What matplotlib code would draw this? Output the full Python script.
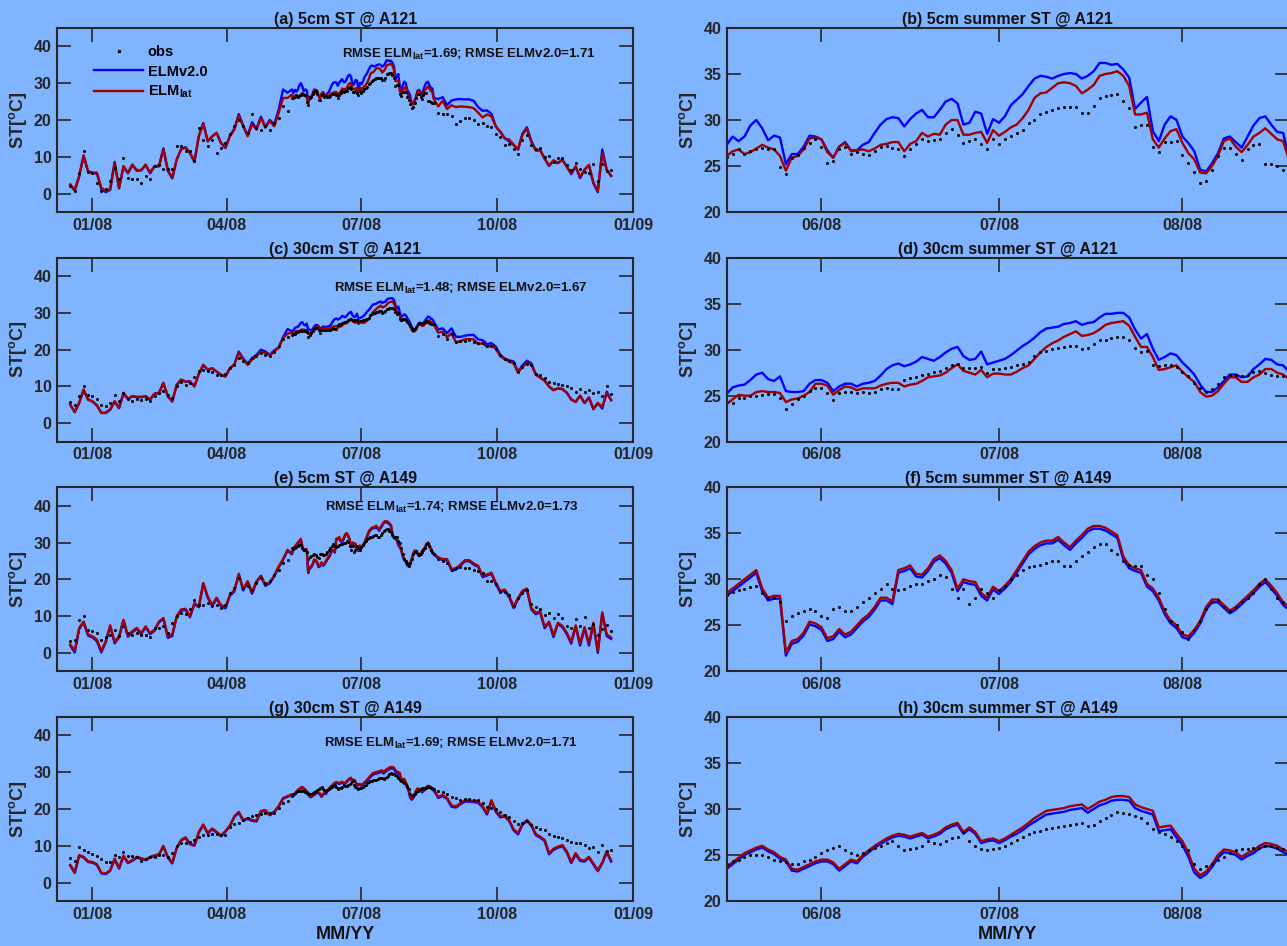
import numpy as np
import matplotlib.pyplot as plt
from matplotlib.lines import Line2D

plt.rcParams['font.family'] = ['Liberation Sans', 'DejaVu Sans']
plt.rcParams['font.weight'] = 'bold'
plt.rcParams['axes.labelweight'] = 'bold'
plt.rcParams['axes.titleweight'] = 'bold'
plt.rcParams['mathtext.fontset'] = 'custom'
plt.rcParams['mathtext.rm'] = 'Liberation Sans:bold'
plt.rcParams['mathtext.it'] = 'Liberation Sans:bold'
plt.rcParams['mathtext.bf'] = 'Liberation Sans:bold'

BG = '#80B4FF'
INK = '#262626'
C_V2 = '#0000FF'
C_LAT = '#A00000'

# day numbers counted from 2008-01-01
day_pre = np.arange(-15, 136, 3)
day_sum = np.arange(136, 232)
day_post = np.arange(234, 352, 3)

# ---- A121, 5 cm ----
a_obs_pre = [2.1, 0.7, 5.7, 11.7, 6.0, 5.7, 3.0, 0.7, 1.2, 3.4, 7.0, 3.9, 9.8, 4.3, 4.1, 3.9, 3.0, 4.8, 3.9, 7.5,
             7.8, 6.6, 6.6, 6.6, 12.9, 12.9, 11.6, 11.6, 8.8, 17.9, 14.7, 12.9, 14.7, 11.1, 12.5, 13.8, 16.3, 18.3,
             20.1, 18.3, 16.5, 21.5, 17.9, 17.4, 18.3, 17.4, 19.2, 20.6, 23.7, 22.4, 26.0]
a_v2_pre = [2.3, 0.8, 4.6, 10.4, 6.0, 5.5, 5.5, 1.2, 0.4, 1.0, 8.6, 1.4, 7.3, 5.5, 7.7, 6.2, 6.3, 7.8, 5.5, 7.4,
            7.4, 12.3, 6.2, 4.1, 9.2, 12.1, 12.6, 11.0, 8.6, 15.7, 19.2, 14.2, 15.5, 16.5, 13.7, 12.4, 15.7, 17.6,
            21.6, 18.5, 15.8, 19.4, 17.6, 20.9, 18.1, 20.0, 18.8, 22.8, 28.3, 27.4, 28.3]
a_lat_pre = [2.5, 1.0, 4.8, 10.2, 6.1, 5.7, 5.7, 1.6, 0.7, 1.2, 8.4, 1.6, 7.5, 5.7, 7.9, 6.4, 6.4, 7.9, 5.7, 7.5,
             7.5, 12.0, 6.4, 4.3, 9.3, 12.0, 12.5, 11.1, 8.8, 15.6, 19.0, 14.3, 15.6, 16.5, 13.8, 12.5, 15.6, 17.4,
             21.3, 18.3, 15.6, 18.8, 17.4, 20.6, 17.9, 19.7, 18.3, 21.9, 26.0, 26.0, 26.9]
b_obs = [26.0, 26.3, 26.9, 26.3, 26.6, 26.8, 27.0, 26.8, 26.8, 24.9, 24.1, 25.9, 26.2, 27.0, 27.5, 27.9, 27.1, 25.3,
         25.5, 26.8, 27.1, 26.3, 26.5, 26.3, 26.2, 26.6, 27.1, 27.2, 27.0, 26.9, 26.1, 26.8, 27.4, 27.9, 27.7, 27.8,
         27.9, 28.6, 29.0, 28.4, 27.5, 27.7, 27.9, 27.4, 26.9, 27.9, 27.4, 27.9, 28.3, 28.6, 28.9, 29.7, 30.0, 30.7,
         30.9, 31.1, 31.3, 31.4, 31.4, 31.4, 30.8, 30.8, 31.5, 32.4, 32.6, 32.7, 32.8, 32.1, 31.3, 29.2, 29.5, 29.5,
         27.1, 26.5, 27.6, 27.6, 27.7, 26.2, 25.3, 24.3, 23.2, 23.4, 24.6, 26.1, 27.0, 27.0, 26.3, 25.7, 26.9, 27.3,
         27.4, 25.2, 25.2, 25.0, 24.6, 24.6]
b_v2 = [27.3, 28.2, 27.7, 28.2, 29.4, 30.0, 29.1, 27.8, 28.3, 28.1, 25.2, 26.3, 26.3, 27.1, 28.3, 28.2, 27.9, 26.7,
        25.9, 27.1, 27.6, 26.7, 26.7, 27.3, 27.6, 28.6, 29.5, 30.1, 30.3, 30.2, 29.3, 30.1, 30.7, 31.1, 30.3, 30.3,
        31.1, 32.0, 32.3, 31.8, 29.5, 29.7, 30.9, 30.7, 28.5, 30.1, 29.7, 30.4, 31.6, 32.2, 32.8, 33.7, 34.5, 34.8,
        34.7, 34.5, 34.8, 35.0, 35.1, 35.0, 34.5, 34.8, 35.3, 36.2, 36.2, 36.0, 36.1, 35.5, 34.6, 31.2, 31.9, 32.5,
        28.8, 27.7, 29.5, 30.4, 30.0, 28.2, 27.5, 26.6, 24.6, 24.4, 25.3, 26.4, 28.0, 28.2, 27.6, 27.0, 28.2, 29.4,
        30.2, 30.4, 29.5, 28.7, 28.6, 26.0]
b_lat = [26.1, 26.6, 26.8, 26.3, 26.5, 26.9, 27.3, 27.0, 26.8, 26.1, 24.5, 25.9, 26.1, 26.8, 28.0, 28.1, 27.9, 26.5,
         25.9, 27.1, 27.5, 26.6, 26.7, 26.8, 26.6, 26.9, 27.3, 27.4, 27.6, 27.6, 26.6, 27.4, 27.7, 28.6, 28.2, 28.5,
         28.4, 29.5, 30.0, 30.0, 28.4, 28.4, 28.6, 28.7, 27.5, 28.9, 28.3, 28.7, 29.2, 29.5, 30.2, 31.1, 32.4, 32.9,
         33.0, 33.5, 34.0, 34.1, 34.0, 33.7, 32.9, 33.3, 33.8, 34.8, 35.0, 35.1, 35.3, 34.8, 33.7, 30.6, 30.6, 30.8,
         27.9, 27.0, 28.0, 28.8, 29.0, 27.5, 26.4, 25.7, 24.3, 24.2, 25.0, 26.1, 27.7, 28.0, 27.1, 26.5, 27.3, 28.2,
         28.6, 29.1, 28.5, 27.9, 27.7, 25.7]
a_obs_post = [21.8, 21.6, 21.5, 21.1, 19.0, 19.8, 20.6, 20.6, 20.1, 18.8, 19.2, 18.3, 18.2, 16.2, 15.4, 13.2, 13.5,
              12.0, 10.8, 14.5, 15.8, 13.2, 12.0, 12.4, 10.0, 10.2, 8.6, 9.6, 9.6, 7.8, 6.3, 8.4, 6.8, 6.0, 5.5, 8.0,
              3.5, 8.0, 6.2, 6.5]
a_v2_post = [25.7, 26.2, 24.0, 25.3, 25.6, 25.7, 25.6, 25.6, 25.2, 23.5, 22.5, 22.6, 21.7, 18.2, 16.8, 15.0, 14.2,
             13.2, 12.0, 16.3, 18.0, 14.3, 11.8, 11.8, 9.5, 7.5, 9.0, 8.3, 9.2, 7.3, 5.3, 7.3, 4.2, 6.5, 7.8, 2.8,
             0.4, 12.0, 6.5, 4.8]
a_lat_post = [23.7, 25.2, 23.0, 24.0, 23.5, 23.7, 23.6, 23.5, 23.2, 22.0, 20.7, 21.5, 21.0, 18.2, 16.8, 15.0, 14.7,
              13.3, 12.0, 16.0, 17.6, 14.0, 11.7, 11.8, 9.5, 7.6, 9.0, 8.3, 9.2, 7.3, 5.5, 7.4, 4.5, 6.5, 7.8, 3.0,
              0.8, 11.0, 6.5, 4.8]

# ---- A121, 30 cm ----
c_obs_pre = [5.8, 4.9, 7.4, 10.1, 7.8, 7.4, 6.7, 5.1, 4.7, 5.4, 7.8, 6.0, 8.1, 6.5, 6.0, 6.5, 6.3, 6.7, 6.0, 7.4,
             8.1, 8.7, 7.8, 6.9, 10.1, 11.2, 10.5, 11.0, 12.6, 14.1, 14.6, 14.1, 13.9, 13.2, 13.0, 13.5, 15.0, 15.9,
             17.7, 16.8, 16.4, 17.7, 18.2, 19.1, 18.6, 18.4, 19.5, 20.9, 22.9, 23.4, 24.1]
c_v2_pre = [5.0, 3.0, 5.5, 9.0, 6.4, 5.9, 4.8, 2.8, 2.8, 3.7, 5.9, 4.1, 8.1, 6.6, 7.3, 7.1, 7.1, 7.3, 6.4, 8.0,
            8.2, 10.9, 7.3, 5.9, 10.4, 11.8, 11.3, 11.3, 10.0, 13.4, 15.8, 14.5, 14.9, 14.0, 13.1, 12.7, 15.0, 16.0,
            19.5, 17.6, 16.2, 17.7, 18.6, 20.0, 19.5, 18.6, 19.8, 20.6, 23.4, 25.6, 25.0]
c_lat_pre = [5.1, 3.1, 5.6, 9.2, 6.5, 6.0, 4.9, 2.9, 2.9, 3.8, 6.0, 4.2, 8.3, 6.7, 7.4, 7.2, 7.2, 7.4, 6.5, 8.1,
             8.3, 11.0, 7.4, 6.0, 10.5, 11.9, 11.4, 11.4, 10.1, 13.5, 15.9, 14.6, 15.0, 14.1, 13.2, 12.8, 15.0, 15.9,
             19.3, 17.3, 15.9, 17.3, 18.2, 19.5, 19.1, 18.4, 19.5, 20.5, 23.2, 24.3, 24.7]
d_obs = [24.3, 24.2, 24.8, 24.8, 25.0, 25.0, 25.1, 25.2, 25.2, 24.8, 23.5, 24.1, 24.6, 25.0, 25.5, 25.8, 25.8, 25.3,
         24.5, 25.3, 25.4, 25.4, 25.3, 25.4, 25.3, 25.4, 25.7, 25.8, 25.7, 25.7, 26.7, 26.9, 27.0, 27.2, 27.4, 27.6,
         27.7, 28.0, 28.3, 28.4, 28.0, 28.0, 28.0, 28.1, 27.5, 27.9, 27.9, 28.0, 28.1, 28.3, 28.4, 28.7, 29.3, 29.7,
         29.9, 30.1, 30.2, 30.3, 30.4, 30.4, 30.1, 30.2, 30.6, 31.0, 31.1, 31.3, 31.4, 31.4, 31.0, 30.2, 29.8, 29.9,
         28.3, 28.2, 28.3, 28.3, 28.1, 27.6, 27.1, 26.4, 25.8, 25.4, 25.7, 26.3, 27.0, 27.3, 27.3, 27.1, 27.3, 27.6,
         27.7, 27.5, 27.2, 27.1, 27.1, 26.9]
d_v2 = [25.2, 25.9, 26.1, 26.2, 26.7, 27.3, 27.5, 26.8, 26.6, 27.1, 25.5, 25.4, 25.4, 25.5, 26.3, 26.7, 26.7, 26.4,
        25.5, 26.0, 26.3, 26.3, 26.0, 26.3, 26.4, 26.6, 27.2, 27.9, 28.3, 28.5, 28.2, 28.4, 28.7, 29.2, 29.0, 28.8,
        29.2, 29.7, 30.1, 30.3, 29.3, 28.9, 29.0, 29.8, 28.4, 28.6, 28.8, 29.0, 29.4, 29.9, 30.4, 30.8, 31.3, 31.9,
        32.3, 32.4, 32.5, 32.8, 32.9, 33.1, 32.7, 32.9, 33.0, 33.5, 33.9, 33.9, 34.0, 34.0, 33.5, 32.2, 31.2, 31.7,
        30.1, 28.9, 29.2, 29.6, 29.4, 28.6, 28.0, 27.3, 26.2, 25.4, 25.4, 25.9, 26.6, 27.3, 27.3, 27.0, 27.1, 27.9,
        28.4, 29.0, 28.9, 28.4, 28.3, 27.6]
d_lat = [24.1, 24.6, 25.1, 25.0, 25.0, 25.4, 25.5, 25.4, 25.4, 25.3, 24.3, 24.6, 24.7, 25.0, 25.4, 26.3, 26.3, 26.1,
         25.1, 25.6, 26.0, 25.9, 25.6, 25.8, 25.8, 25.8, 26.1, 26.3, 26.4, 26.4, 26.0, 26.2, 26.3, 26.6, 27.0, 27.1,
         27.2, 27.5, 28.0, 28.4, 27.7, 27.5, 27.3, 27.8, 27.0, 27.4, 27.4, 27.3, 27.3, 27.6, 28.0, 28.3, 29.0, 29.7,
         30.3, 30.7, 31.0, 31.4, 31.7, 32.0, 31.5, 31.6, 31.8, 32.2, 32.7, 32.9, 33.0, 33.1, 32.6, 31.4, 30.3, 30.3,
         29.2, 27.8, 27.9, 28.1, 28.3, 27.6, 27.0, 26.5, 25.4, 24.9, 25.0, 25.5, 26.3, 27.0, 27.0, 26.5, 26.5, 27.0,
         27.3, 27.9, 27.9, 27.5, 27.3, 26.8]
c_obs_post = [23.8, 24.4, 23.0, 24.2, 22.2, 22.3, 22.4, 22.6, 22.2, 21.7, 21.9, 21.0, 21.0, 20.2, 18.6, 17.6, 17.0,
              16.5, 14.0, 15.3, 16.2, 15.8, 13.5, 13.0, 12.4, 11.2, 11.0, 10.8, 10.5, 10.0, 9.5, 8.5, 9.4, 8.5, 9.0,
              8.2, 8.6, 7.5, 10.0, 8.0]
c_v2_post = [25.5, 25.8, 24.5, 25.8, 23.5, 23.5, 23.8, 24.0, 24.0, 22.8, 22.6, 21.5, 21.8, 20.8, 18.6, 17.6, 17.1,
             16.8, 14.0, 15.8, 17.0, 16.3, 13.3, 12.4, 11.6, 10.0, 9.0, 9.5, 9.3, 8.3, 6.5, 5.8, 7.5, 5.5, 7.0, 3.8,
             5.5, 4.0, 8.6, 6.3]
c_lat_post = [24.6, 24.9, 23.4, 24.5, 22.0, 22.3, 22.8, 22.9, 22.8, 21.5, 21.8, 20.8, 21.2, 20.2, 18.2, 17.4, 16.8,
              16.3, 13.8, 15.3, 16.4, 16.0, 13.2, 12.4, 11.6, 10.0, 9.0, 9.5, 9.3, 8.3, 6.5, 5.8, 7.5, 5.5, 7.0, 4.0,
              5.5, 4.5, 8.2, 6.3]

# ---- A149, 5 cm ----
e_obs_pre = [3.2, 3.6, 9.0, 10.0, 6.3, 5.9, 5.4, 3.6, 4.3, 5.0, 6.3, 4.7, 7.2, 5.4, 5.0, 5.4, 5.0, 5.0, 4.3, 6.8,
             6.8, 7.2, 5.4, 8.1, 10.0, 10.9, 10.7, 11.8, 14.5, 13.1, 13.1, 13.6, 12.7, 12.9, 12.2, 12.9, 16.3, 17.6,
             20.4, 17.6, 18.1, 17.2, 19.0, 20.4, 19.0, 19.5, 21.3, 22.6, 24.4, 25.3, 28.5]
e_v2_pre = [2.0, 0.1, 6.5, 8.3, 4.7, 4.2, 3.2, 0.1, 2.9, 7.3, 2.6, 4.2, 8.8, 4.4, 5.6, 6.5, 5.1, 7.0, 5.1, 6.0,
            8.3, 9.3, 4.1, 4.6, 9.8, 11.5, 11.7, 9.7, 13.3, 12.4, 18.8, 15.0, 12.7, 14.7, 12.7, 12.1, 15.5, 16.7,
            21.3, 17.0, 19.2, 16.1, 19.2, 20.8, 18.2, 18.9, 20.8, 23.2, 25.3, 27.8, 26.8]
e_lat_pre = [2.3, 0.5, 6.8, 8.5, 5.0, 4.5, 3.6, 0.5, 3.2, 7.5, 3.0, 4.5, 9.0, 4.7, 5.9, 6.8, 5.4, 7.2, 5.4, 6.3,
             8.5, 9.5, 4.5, 5.0, 10.0, 11.8, 12.0, 10.0, 13.5, 12.7, 19.0, 15.3, 13.1, 15.0, 13.0, 12.5, 15.8, 17.0,
             21.5, 17.3, 19.5, 16.5, 19.5, 21.0, 18.5, 19.2, 21.0, 23.5, 25.5, 28.0, 27.0]
f_obs = [28.3, 28.6, 28.8, 29.0, 29.2, 29.3, 28.5, 28.0, 28.0, 27.5, 25.5, 26.0, 26.3, 26.5, 26.8, 26.5, 26.0, 25.8,
         26.8, 27.0, 26.5, 26.5, 27.0, 27.5, 28.0, 28.5, 29.0, 29.5, 29.0, 28.8, 29.0, 29.3, 29.5, 29.5, 29.8, 30.0,
         30.5, 30.2, 29.0, 28.0, 29.0, 27.3, 28.0, 29.0, 28.5, 28.0, 28.8, 29.3, 30.0, 30.5, 31.0, 31.3, 31.5, 31.6,
         31.8, 32.0, 32.0, 31.5, 31.5, 32.0, 32.5, 33.0, 33.5, 33.8, 33.8, 33.2, 32.8, 32.0, 31.6, 31.5, 31.5, 30.5,
         30.0, 28.5, 26.8, 25.5, 25.0, 24.3, 23.5, 24.5, 25.5, 26.8, 27.5, 27.8, 27.0, 26.5, 27.0, 27.5, 28.0, 28.5,
         29.5, 30.0, 29.0, 28.0, 27.5, 27.0]
f_v2 = [28.2, 28.7, 29.2, 29.7, 30.2, 30.7, 28.7, 27.7, 27.9, 27.9, 21.7, 23.0, 23.2, 23.9, 25.1, 24.9, 24.5, 23.3,
        23.5, 24.3, 23.7, 24.0, 24.7, 25.4, 25.9, 26.7, 27.7, 27.7, 27.3, 30.7, 30.9, 31.2, 30.3, 30.2, 30.9, 31.9,
        32.3, 31.7, 30.7, 28.7, 29.7, 29.5, 29.4, 28.2, 27.7, 28.9, 28.4, 29.0, 29.7, 30.7, 31.7, 32.7, 33.3, 33.7,
        33.9, 33.9, 34.3, 33.7, 33.2, 33.9, 34.5, 35.2, 35.5, 35.5, 35.3, 34.9, 34.5, 32.2, 31.2, 30.9, 30.7, 29.2,
        28.7, 27.7, 26.2, 25.2, 24.7, 23.7, 23.5, 24.2, 25.2, 26.7, 27.5, 27.5, 26.9, 26.3, 26.7, 27.3, 27.9, 28.5,
        29.2, 29.7, 29.0, 28.2, 27.2, 26.7]
f_lat = [28.5, 29.0, 29.5, 30.0, 30.5, 31.0, 29.0, 28.0, 28.2, 28.2, 22.0, 23.3, 23.5, 24.2, 25.4, 25.2, 24.8, 23.6,
         23.8, 24.6, 24.0, 24.3, 25.0, 25.7, 26.2, 27.0, 28.0, 28.0, 27.6, 31.0, 31.2, 31.5, 30.6, 30.5, 31.2, 32.2,
         32.6, 32.0, 31.0, 29.0, 30.0, 29.8, 29.7, 28.5, 28.0, 29.2, 28.7, 29.3, 30.0, 31.0, 32.0, 33.0, 33.6, 34.0,
         34.2, 34.2, 34.6, 34.0, 33.5, 34.2, 34.8, 35.5, 35.8, 35.8, 35.6, 35.2, 34.8, 32.5, 31.5, 31.2, 31.0, 29.5,
         29.0, 28.0, 26.5, 25.5, 25.0, 24.0, 23.8, 24.5, 25.5, 27.0, 27.8, 27.8, 27.2, 26.6, 27.0, 27.6, 28.2, 28.8,
         29.5, 30.0, 29.3, 28.5, 27.5, 27.0]
e_obs_post = [25.5, 25.0, 24.5, 22.4, 23.0, 23.4, 23.1, 23.0, 22.5, 22.3, 21.8, 19.5, 19.5, 18.6, 16.5, 16.6, 15.8,
              12.8, 14.9, 16.3, 17.0, 13.2, 12.6, 11.8, 10.3, 10.8, 9.5, 10.6, 9.5, 7.2, 6.8, 9.3, 7.4, 9.8, 6.8,
              7.8, 5.0, 6.6, 7.5, 6.0]
e_v2_post = [25.7, 25.2, 25.2, 22.4, 22.6, 23.7, 24.9, 24.9, 24.0, 23.4, 20.6, 21.0, 21.5, 18.6, 16.5, 16.9, 15.1,
             12.2, 14.6, 16.6, 17.2, 11.8, 10.5, 11.0, 6.7, 8.2, 4.3, 7.9, 7.0, 5.1, 2.5, 7.2, 2.0, 6.7, 2.0, 7.9,
             0.0, 10.7, 4.6, 3.8]
e_lat_post = [26.0, 25.5, 25.5, 22.8, 23.0, 24.0, 25.2, 25.2, 24.3, 23.7, 21.0, 21.3, 21.8, 19.0, 16.9, 17.2, 15.5,
              12.6, 14.9, 16.9, 17.5, 12.2, 10.9, 11.3, 7.1, 8.5, 4.8, 8.2, 7.3, 5.5, 3.0, 7.5, 2.5, 7.0, 2.5, 8.2,
              0.5, 11.0, 5.0, 4.2]

# ---- A149, 30 cm ----
g_obs_pre = [6.8, 5.8, 9.6, 8.8, 8.2, 7.8, 7.2, 6.3, 5.5, 5.5, 7.5, 7.0, 8.2, 7.3, 7.2, 7.0, 5.8, 6.4, 7.0, 7.0,
             7.6, 7.5, 7.0, 8.0, 10.0, 10.7, 10.7, 11.0, 11.5, 12.5, 12.8, 12.9, 13.2, 13.2, 12.9, 13.0, 15.0, 15.8,
             16.3, 17.0, 17.5, 18.0, 18.3, 18.6, 18.8, 18.8, 19.0, 20.3, 21.5, 22.2, 23.5]
g_v2_pre = [4.6, 2.6, 7.3, 6.8, 5.6, 5.4, 4.8, 2.5, 2.3, 3.2, 6.3, 3.8, 7.1, 5.3, 5.9, 6.8, 6.4, 6.1, 6.8, 7.2,
            7.5, 9.8, 6.8, 5.2, 9.3, 11.4, 12.1, 10.4, 10.0, 13.6, 15.6, 13.3, 14.5, 13.6, 12.6, 13.8, 15.3, 17.8,
            19.0, 16.8, 17.3, 16.8, 16.6, 19.3, 19.5, 18.3, 19.1, 20.6, 22.8, 23.3, 23.8]
g_lat_pre = [4.8, 2.8, 7.5, 7.0, 5.8, 5.6, 5.0, 2.7, 2.5, 3.4, 6.5, 4.0, 7.3, 5.5, 6.1, 7.0, 6.6, 6.3, 7.0, 7.4,
             7.7, 10.0, 7.0, 5.4, 9.5, 11.6, 12.3, 10.6, 10.2, 13.8, 15.8, 13.5, 14.7, 13.8, 12.8, 14.0, 15.5, 18.0,
             19.2, 17.0, 17.5, 17.0, 16.8, 19.5, 19.7, 18.5, 19.3, 20.8, 23.0, 23.5, 24.0]
h_obs = [24.0, 24.3, 24.5, 24.8, 25.0, 25.0, 25.0, 24.8, 24.5, 24.3, 24.2, 24.0, 24.0, 24.3, 24.5, 24.8, 25.2, 25.5,
         25.8, 26.0, 25.5, 25.2, 25.0, 25.2, 25.5, 25.8, 26.0, 26.3, 26.5, 26.0, 25.5, 25.6, 25.8, 26.0, 26.5, 26.3,
         26.2, 26.5, 26.8, 27.0, 27.5, 26.5, 26.0, 25.6, 25.5, 25.6, 25.8, 26.0, 26.3, 26.6, 27.0, 27.3, 27.5, 27.6,
         27.8, 27.9, 28.0, 28.1, 28.3, 28.4, 28.5, 28.2, 28.3, 28.7, 29.0, 29.4, 29.7, 29.6, 29.5, 29.2, 29.0, 28.5,
         27.8, 27.5, 27.3, 27.0, 26.5, 26.0, 25.5, 24.0, 23.5, 23.8, 24.0, 24.5, 24.8, 25.2, 25.5, 25.6, 25.7, 25.8,
         25.8, 26.0, 26.0, 25.8, 25.7, 25.5]
h_v2 = [23.5, 24.0, 24.5, 25.0, 25.3, 25.6, 25.8, 25.4, 25.1, 24.6, 24.3, 23.3, 23.2, 23.5, 23.8, 24.1, 24.3, 24.3,
        24.0, 23.3, 23.8, 24.3, 24.1, 24.8, 25.3, 25.8, 26.2, 26.6, 26.9, 27.1, 27.0, 26.8, 27.0, 27.2, 26.8, 27.0,
        27.3, 27.8, 28.1, 28.3, 27.3, 27.8, 27.3, 26.3, 26.5, 26.6, 26.3, 26.6, 27.0, 27.3, 27.7, 28.2, 28.6, 29.0,
        29.4, 29.5, 29.6, 29.7, 29.9, 30.0, 30.1, 29.6, 30.0, 30.4, 30.6, 30.9, 31.0, 31.0, 30.9, 30.1, 29.8, 29.6,
        29.4, 27.6, 27.7, 27.8, 26.9, 26.1, 24.8, 23.1, 22.5, 22.9, 23.7, 24.7, 25.3, 25.2, 25.0, 24.5, 24.9, 25.2,
        25.7, 26.0, 25.9, 25.7, 25.3, 25.0]
h_lat = [23.7, 24.2, 24.7, 25.2, 25.5, 25.8, 26.0, 25.6, 25.3, 24.8, 24.5, 23.5, 23.4, 23.7, 24.0, 24.3, 24.5, 24.5,
         24.2, 23.5, 24.0, 24.5, 24.3, 25.0, 25.5, 26.0, 26.4, 26.8, 27.1, 27.3, 27.2, 27.0, 27.2, 27.4, 27.0, 27.2,
         27.5, 28.0, 28.3, 28.5, 27.5, 28.0, 27.5, 26.5, 26.7, 26.8, 26.5, 26.8, 27.2, 27.6, 28.0, 28.5, 29.0, 29.4,
         29.8, 29.9, 30.0, 30.1, 30.3, 30.4, 30.5, 30.0, 30.4, 30.8, 31.0, 31.3, 31.4, 31.4, 31.3, 30.5, 30.2, 30.0,
         29.8, 28.0, 28.1, 28.2, 27.3, 26.5, 25.2, 23.5, 22.8, 23.2, 24.0, 25.0, 25.6, 25.5, 25.3, 24.8, 25.2, 25.5,
         26.0, 26.3, 26.2, 26.0, 25.6, 25.3]
g_obs_post = [25.0, 24.6, 24.2, 23.3, 22.9, 22.5, 22.6, 22.6, 22.4, 22.4, 21.7, 20.6, 20.3, 20.0, 19.2, 18.3, 17.9,
              16.8, 15.8, 16.2, 16.8, 15.6, 15.0, 14.6, 14.2, 13.2, 12.6, 12.3, 12.0, 11.6, 11.0, 10.7, 10.7, 10.2,
              9.4, 9.8, 8.2, 10.3, 8.5, 8.9]
g_v2_post = [23.0, 23.5, 22.7, 20.6, 20.4, 21.3, 22.0, 22.0, 21.9, 21.7, 20.5, 18.5, 22.1, 19.2, 17.7, 18.0, 16.7,
             14.2, 13.1, 15.7, 16.7, 15.5, 12.9, 12.2, 11.3, 7.7, 8.9, 9.5, 9.9, 8.2, 5.3, 7.7, 5.9, 5.7, 6.7, 4.9,
             3.1, 5.2, 8.2, 5.7]
g_lat_post = [23.3, 23.8, 23.0, 21.0, 20.7, 21.6, 22.3, 22.3, 22.2, 22.0, 20.8, 18.8, 22.4, 19.5, 18.0, 18.3, 17.0,
              14.5, 13.4, 16.0, 17.0, 15.8, 13.2, 12.5, 11.6, 8.0, 9.2, 9.8, 10.2, 8.5, 5.6, 8.0, 6.2, 6.0, 7.0, 5.2,
              3.4, 5.5, 8.5, 6.0]

rows = [
    ('(a) 5cm ST @ A121', '(b) 5cm summer ST @ A121',
     r'RMSE ELM$_{lat}$=1.69; RMSE ELMv2.0=1.71', (0.715, 0.835),
     (a_obs_pre, b_obs, a_obs_post), (a_v2_pre, b_v2, a_v2_post), (a_lat_pre, b_lat, a_lat_post)),
    ('(c) 30cm ST @ A121', '(d) 30cm summer ST @ A121',
     r'RMSE ELM$_{lat}$=1.48; RMSE ELMv2.0=1.67', (0.701, 0.815),
     (c_obs_pre, d_obs, c_obs_post), (c_v2_pre, d_v2, c_v2_post), (c_lat_pre, d_lat, c_lat_post)),
    ('(e) 5cm ST @ A149', '(f) 5cm summer ST @ A149',
     r'RMSE ELM$_{lat}$=1.74; RMSE ELMv2.0=1.73', (0.686, 0.873),
     (e_obs_pre, f_obs, e_obs_post), (e_v2_pre, f_v2, e_v2_post), (e_lat_pre, f_lat, e_lat_post)),
    ('(g) 30cm ST @ A149', '(h) 30cm summer ST @ A149',
     r'RMSE ELM$_{lat}$=1.69; RMSE ELMv2.0=1.71', (0.683, 0.839),
     (g_obs_pre, h_obs, g_obs_post), (g_v2_pre, h_v2, g_v2_post), (g_lat_pre, h_lat, g_lat_post)),
]

W, H = 1287.0, 946.0
row_top = [28, 257.7, 487.3, 717]
ax_h = 184
fig = plt.figure(figsize=(12.87, 9.46), dpi=100, facecolor=BG)


def style(ax):
    ax.set_facecolor(BG)
    for s in ax.spines.values():
        s.set_color(INK)
        s.set_linewidth(1.5)
    ax.tick_params(direction='in', length=10, width=1.2, top=True, right=True,
                   colors=INK, labelsize=11.5, pad=4)
    ax.set_ylabel('ST[$^{o}$C]', fontsize=13, color=INK, labelpad=3)


def draw(ax, x, obs, v2, lat):
    ax.plot(x, v2, color=C_V2, lw=1.7)
    ax.plot(x, lat, color=C_LAT, lw=1.7)
    ax.plot(x, obs, 'o', color='k', ms=2.2, mew=0)


day_full = np.concatenate([day_pre, day_sum, day_post])
for i, (t_left, t_right, rmse, rpos, obs, v2, lat) in enumerate(rows):
    bottom = 1 - (row_top[i] + ax_h) / H

    # whole year
    ax = fig.add_axes([57 / W, bottom, (633.3 - 57) / W, ax_h / H])
    style(ax)
    draw(ax, day_full, np.concatenate(obs), np.concatenate(v2), np.concatenate(lat))
    ax.set_xlim(-24, 366)
    ax.set_ylim(-5, 45)
    ax.set_xticks([0, 91, 182, 274, 366])
    ax.set_xticklabels(['01/08', '04/08', '07/08', '10/08', '01/09'])
    ax.set_yticks([0, 10, 20, 30, 40])
    ax.set_title(t_left, fontsize=11.5, pad=3, color='#111111')
    ax.text(rpos[0], rpos[1], rmse, transform=ax.transAxes, ha='center', va='baseline',
            fontsize=9.5, color='#111111')
    if i == 0:
        handles = [Line2D([], [], ls='none', marker='o', color='k', ms=2.5, mew=0),
                   Line2D([], [], color=C_V2, lw=1.7),
                   Line2D([], [], color=C_LAT, lw=1.7)]
        ax.legend(handles, ['obs', 'ELMv2.0', 'ELM$_{lat}$'], loc='upper left',
                  bbox_to_anchor=(0.065, 0.905), frameon=False, fontsize=10.5,
                  handlelength=3.3, handletextpad=0.35, labelspacing=0.35,
                  borderpad=0, borderaxespad=0, numpoints=1)
    if i == 3:
        ax.set_xlabel('MM/YY', fontsize=13, color='#111111', labelpad=3)

    # summer window
    ax = fig.add_axes([726.7 / W, bottom, (1289 - 726.7) / W, ax_h / H])
    style(ax)
    draw(ax, day_sum, obs[1], v2[1], lat[1])
    ax.set_xlim(136, 231)
    ax.set_ylim(20, 40)
    ax.set_xticks([152, 182, 213])
    ax.set_xticklabels(['06/08', '07/08', '08/08'])
    ax.set_yticks([20, 25, 30, 35, 40])
    ax.set_title(t_right, fontsize=11.5, pad=3, color='#111111')
    if i == 3:
        ax.set_xlabel('MM/YY', fontsize=13, color='#111111', labelpad=3)

fig.savefig('out.png', dpi=100, facecolor=BG)
